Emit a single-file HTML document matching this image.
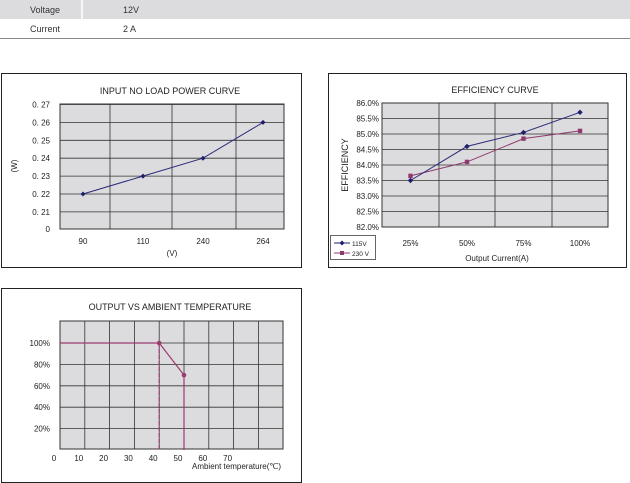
<!DOCTYPE html>
<html><head><meta charset="utf-8"><style>
body{margin:0;background:#fff;width:630px;height:483px;overflow:hidden}
svg{display:block;font-family:"Liberation Sans",sans-serif}
</style></head><body>
<svg id="s" width="630" height="483" viewBox="0 0 630 483">
<rect x="0" y="0" width="630" height="19" fill="#dcdcde"/>
<line x1="82" y1="0" x2="82" y2="19" stroke="#fff" stroke-width="1.5"/>
<text x="30" y="13" font-size="9" fill="#333">Voltage</text>
<text x="123" y="13" font-size="9" fill="#333">12V</text>
<text x="30" y="32" font-size="9" fill="#333">Current</text>
<text x="123" y="32" font-size="9" fill="#333">2 A</text>
<line x1="0" y1="38.5" x2="630" y2="38.5" stroke="#888" stroke-width="1"/>

<g id="c1">
<rect x="1.5" y="73.5" width="300" height="194" fill="#fff" stroke="#222"/>
<text x="170" y="94" font-size="9" text-anchor="middle" fill="#222">INPUT NO LOAD POWER CURVE</text>
<rect x="60" y="104" width="224" height="125" fill="#dcdcde" stroke="#333"/>
<text x="17" y="166" font-size="8" transform="rotate(-90 17 166)" text-anchor="middle" fill="#222">(W)</text>
<text x="172" y="256" font-size="8" text-anchor="middle" fill="#222">(V)</text>
</g>
<g id="c2">
<rect x="328.5" y="73.5" width="298" height="194" fill="#fff" stroke="#222"/>
<text x="495" y="93" font-size="9" text-anchor="middle" fill="#222">EFFICIENCY CURVE</text>
<rect x="382" y="103" width="226" height="124" fill="#dcdcde" stroke="#333"/>
<text x="348" y="165" font-size="9" transform="rotate(-90 348 165)" text-anchor="middle" fill="#222">EFFICIENCY</text>
<text x="497" y="261" font-size="8" text-anchor="middle" fill="#222">Output Current(A)</text>
<rect x="330.5" y="235.5" width="45" height="24" fill="#fff" stroke="#666"/>
<line x1="334" y1="243" x2="350" y2="243" stroke="#1f1f6e"/><path d="M342 240.5L344.5 243L342 245.5L339.5 243Z" fill="#1f1f6e"/>
<text x="352" y="246" font-size="6.5" fill="#222">115V</text>
<line x1="334" y1="253" x2="350" y2="253" stroke="#8e3a6e"/><rect x="340" y="251" width="4" height="4" fill="#8e3a6e"/>
<text x="352" y="256" font-size="6.5" fill="#222">230 V</text>
</g>
<g id="c3">
<rect x="1.5" y="288.5" width="300" height="194" fill="#fff" stroke="#222"/>
<text x="170" y="310" font-size="9" text-anchor="middle" fill="#222">OUTPUT VS AMBIENT TEMPERATURE</text>
<rect x="60" y="321" width="223" height="128" fill="#dcdcde" stroke="#333"/>
<text x="281" y="469" font-size="8" text-anchor="end" fill="#222">Ambient temperature(℃)</text>
</g>
</svg>
<script>
const NS="http://www.w3.org/2000/svg";
function mk(p,t,a){const e=document.createElementNS(NS,t);for(const k in a)e.setAttribute(k,a[k]);p.appendChild(e);return e;}
// Chart 1
const powerCats=["90","110","240","264"];
const powerVals=[0.22,0.23,0.24,0.26];
const powerTicks=[0.21,0.22,0.23,0.24,0.25,0.26,0.27];
const powerTickLabels=["0. 21","0. 22","0. 23","0. 24","0. 25","0. 26","0. 27"];
// Chart 2
const effCats=["25%","50%","75%","100%"];
const eff115=[83.5,84.6,85.05,85.7];
const eff230=[83.65,84.1,84.85,85.1];
const effTicks=[82,82.5,83,83.5,84,84.5,85,85.5,86];
// Chart 3
const tempTicks=[0,10,20,30,40,50,60,70];
const loadTicks=[20,40,60,80,100];
const derateTemp=[0,40,50];
const derateLoad=[100,100,70];

const c1=document.getElementById('c1');
const y1=v=>194-(v-0.22)/0.01*17.9;
const x1=i=>83+i*60;
[110,172,236].forEach(x=>mk(c1,'line',{x1:x,y1:104,x2:x,y2:229,stroke:'#333','stroke-width':0.8}));
powerTicks.forEach((t,i)=>{const y=y1(t);mk(c1,'line',{x1:60,y1:y,x2:284,y2:y,stroke:'#333','stroke-width':0.8});
 const tx=mk(c1,'text',{x:50,y:y+3,'font-size':8,'text-anchor':'end',fill:'#222'});tx.textContent=powerTickLabels[i];
 
 });
{const tx=mk(c1,'text',{x:50,y:232,'font-size':8,'text-anchor':'end',fill:'#222'});tx.textContent="0";
 
 }
powerCats.forEach((c,i)=>{const tx=mk(c1,'text',{x:x1(i),y:244,'font-size':8,'text-anchor':'middle',fill:'#222'});tx.textContent=c;
 
 });
{const pl=mk(c1,'polyline',{points:powerVals.map((v,i)=>x1(i)+','+y1(v)).join(' '),fill:'none',stroke:'#2a2a78','stroke-width':1});
 
 }
powerVals.forEach((v,i)=>{const x=x1(i),y=y1(v);const p=mk(c1,'path',{d:`M${x} ${y-2.5}L${x+2.5} ${y}L${x} ${y+2.5}L${x-2.5} ${y}Z`,fill:'#1f1f6e'});
 
 });

const c2=document.getElementById('c2');
const y2=v=>227-(v-82)/0.5*15.5;
const x2=i=>410.5+i*56.5;
[439,495,552].forEach(x=>mk(c2,'line',{x1:x,y1:103,x2:x,y2:227,stroke:'#333','stroke-width':0.8}));
effTicks.forEach(t=>{const y=y2(t);mk(c2,'line',{x1:382,y1:y,x2:608,y2:y,stroke:'#333','stroke-width':0.8});
 const tx=mk(c2,'text',{x:379,y:y+3,'font-size':8,'text-anchor':'end',fill:'#222'});tx.textContent=t.toFixed(1)+'%';
 
 });
effCats.forEach((c,i)=>{const tx=mk(c2,'text',{x:x2(i),y:246,'font-size':8,'text-anchor':'middle',fill:'#222'});tx.textContent=c;
 
 });
{const pl=mk(c2,'polyline',{points:eff230.map((v,i)=>x2(i)+','+y2(v)).join(' '),fill:'none',stroke:'#8e3a6e','stroke-width':1});
 
 }
{const pl=mk(c2,'polyline',{points:eff115.map((v,i)=>x2(i)+','+y2(v)).join(' '),fill:'none',stroke:'#2a2a78','stroke-width':1});
 
 }
eff230.forEach((v,i)=>{const r=mk(c2,'rect',{x:x2(i)-2.2,y:y2(v)-2.2,width:4.4,height:4.4,fill:'#8e3a6e'});
 
 });
eff115.forEach((v,i)=>{const x=x2(i),y=y2(v);const p=mk(c2,'path',{d:`M${x} ${y-2.7}L${x+2.7} ${y}L${x} ${y+2.7}L${x-2.7} ${y}Z`,fill:'#1f1f6e'});
 
 });

const c3=document.getElementById('c3');
const x3=v=>60+v*2.48;
const y3=v=>450-v*1.07;
for(let i=1;i<9;i++){const x=60+i*24.8;mk(c3,'line',{x1:x,y1:321,x2:x,y2:449,stroke:'#333','stroke-width':0.8});}
loadTicks.forEach(t=>{const y=y3(t);mk(c3,'line',{x1:60,y1:y,x2:283,y2:y,stroke:'#333','stroke-width':0.8});
 const tx=mk(c3,'text',{x:50,y:y+3,'font-size':8,'text-anchor':'end',fill:'#222'});tx.textContent=t+'%';
 
 });
tempTicks.forEach(t=>{const tx=mk(c3,'text',{x:x3(t)-6,y:461,'font-size':8,'text-anchor':'middle',fill:'#222'});tx.textContent=t;
 
 });
const pc='#9b3b72';
{const l=mk(c3,'line',{x1:x3(derateTemp[1]),y1:y3(derateLoad[1]),x2:x3(derateTemp[1]),y2:y3(0),stroke:pc,'stroke-width':1.2,'stroke-dasharray':'4,2'});
 
 }
{const l=mk(c3,'line',{x1:x3(derateTemp[2]),y1:y3(derateLoad[2]),x2:x3(derateTemp[2]),y2:y3(0),stroke:pc,'stroke-width':1.2});
 
 }
{const pl=mk(c3,'polyline',{points:derateTemp.map((t,i)=>x3(t)+','+y3(derateLoad[i])).join(' '),fill:'none',stroke:pc,'stroke-width':1.2});
 
 }
derateTemp.slice(1).forEach((t,i)=>{const c=mk(c3,'circle',{cx:x3(t),cy:y3(derateLoad[i+1]),r:2.3,fill:pc});
 
 });
</script>
</body></html>
